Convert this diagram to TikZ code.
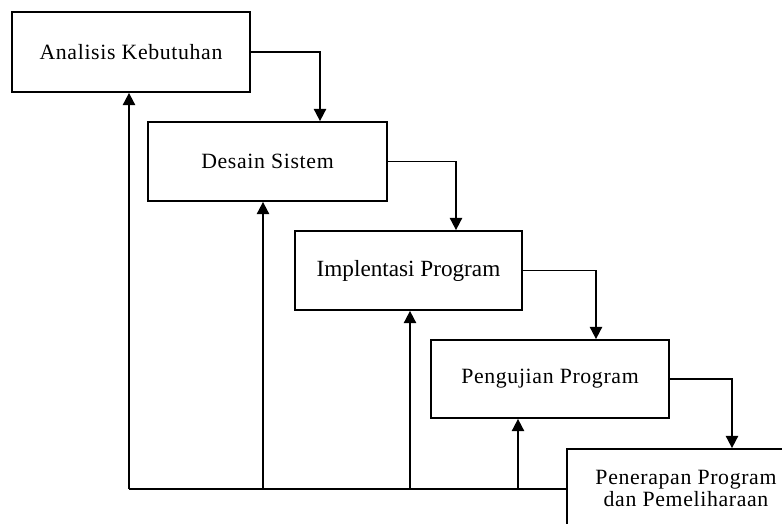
\documentclass[tikz,border=0pt]{standalone}
\usepackage{fontspec}
\setmainfont{Liberation Serif}
\newfontfamily\spacedserif[LetterSpace=3]{Liberation Serif}
\usetikzlibrary{arrows.meta,positioning}
\newcommand{\pxu}{0.02cm}
\tikzset{
    stage/.style={rectangle, draw, line width=1pt, fill=white, align=center, inner sep=0pt,
        minimum width=238*\pxu, minimum height=79*\pxu,
        font=\spacedserif\fontsize{12.4}{12.5}\selectfont},
    stage big/.style={stage, font=\fontsize{13.2}{15}\selectfont},
    flow/.style={-{Triangle[length=7pt,width=7pt]}, line width=1pt},
    back/.style={line width=1pt}
}
\begin{document}
\begin{tikzpicture}[x=\pxu, y=-\pxu]
	\useasboundingbox (0,0) rectangle (782,524);
	\clip (0,0) rectangle (782,524);
	% tahapan
	\node[stage, minimum height=80*\pxu] (analisis) at (131,52) {Analisis Kebutuhan};
	\node[stage, minimum width=239*\pxu] (desain) at (267.5,161.5) {Desain Sistem};
	\node[stage big, minimum width=227*\pxu] (implementasi) at (408.5,270.5) {Implentasi Program};
	\node[stage, minimum height=78*\pxu] (pengujian) at (550,379) {Pengujian Program};
	\node[stage, minimum height=78*\pxu] (penerapan) at (686,488) {Penerapan Program\\dan Pemeliharaan};
	% alur maju
	\draw[flow] (analisis.east) -| ([xshift=52.5*\pxu]desain.north);
	\draw[flow] (desain.east) -| ([xshift=47.5*\pxu]implementasi.north);
	\draw[flow] (implementasi.east) -| ([xshift=46*\pxu]pengujian.north);
	\draw[flow] (pengujian.east) -| ([xshift=46*\pxu]penerapan.north);
	% alur balik
	\coordinate (f1) at (129,489);
	\coordinate (f2) at (263,489);
	\coordinate (f3) at (410,489);
	\coordinate (f4) at (518,489);
	\draw[back] (f1) -- (f1 -| penerapan.west);
	\draw[flow] (f1) -- (f1 |- analisis.south);
	\draw[flow] (f2) -- (f2 |- desain.south);
	\draw[flow] (f3) -- (f3 |- implementasi.south);
	\draw[flow] (f4) -- (f4 |- pengujian.south);
\end{tikzpicture}
\end{document}
